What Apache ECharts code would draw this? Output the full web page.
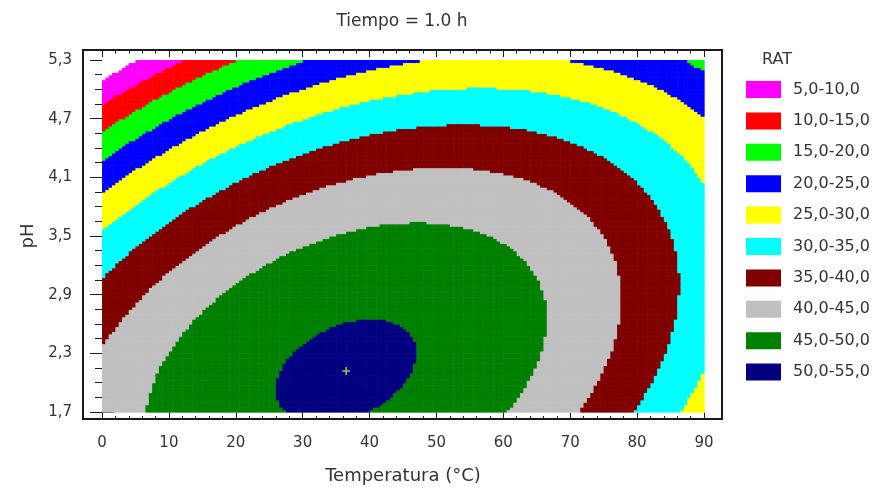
<!DOCTYPE html>
<html>
<head>
<meta charset="utf-8">
<title>Tiempo = 1.0 h</title>
<script src="https://cdn.jsdelivr.net/npm/echarts@6/dist/echarts.min.js"></script>
<style>
  html, body { margin: 0; padding: 0; background: #fff; }
  #chart { width: 893px; height: 491px; }
</style>
</head>
<body>
<div id="chart"></div>
<script>
// axis ranges and ticks
var tempTicks = [0, 10, 20, 30, 40, 50, 60, 70, 80, 90]
var phTicks = [1.7, 2.3, 2.9, 3.5, 4.1, 4.7, 5.3]
var tempInterval = 10
var phInterval = 0.6

// RAT surface: optimum (the + mark), value there,
// how far the ridge moves in °C per pH unit, and the two curvatures
var optimum = [36.5, 2.12]
var optimumRAT = 50.7
var ridgeSlope = 7.0
var phCurvature = 2.47
var tempCurvature = 0.00724

// contour bands
var bandLimits = [5, 10, 15, 20, 25, 30, 35, 40, 45, 50, 55]
var bandLabels = ['5,0-10,0', '10,0-15,0', '15,0-20,0', '20,0-25,0', '25,0-30,0',
  '30,0-35,0', '35,0-40,0', '40,0-45,0', '45,0-50,0', '50,0-55,0']
var bandColors = ['#ff00ff', '#ff0000', '#00ff00', '#0000ff', '#ffff00',
  '#00ffff', '#800000', '#c0c0c0', '#008000', '#000080']

var tempStep = 0.5
var phStep = 0.025
var font = 'DejaVu Sans'

function rat(t, ph) {
  var dp = ph - optimum[1]
  var u = t - optimum[0] - ridgeSlope * dp
  return optimumRAT - phCurvature * dp * dp - tempCurvature * u * u
}

var tMin = tempTicks[0], tMax = tempTicks[tempTicks.length - 1]
var pMin = phTicks[0], pMax = phTicks[phTicks.length - 1]
var nx = Math.round((tMax - tMin) / tempStep)
var ny = Math.round((pMax - pMin) / phStep)
var cells = []
for (var i = 0; i < nx; i++) {
  for (var j = 0; j < ny; j++) {
    var t = tMin + (i + 0.5) * tempStep
    var ph = pMin + (j + 0.5) * phStep
    cells.push([t, ph, rat(t, ph)])
  }
}

function renderCell(params, api) {
  var corner = api.coord([api.value(0) - tempStep / 2, api.value(1) + phStep / 2])
  var size = api.size([tempStep, phStep])
  return {
    type: 'rect',
    shape: { x: corner[0], y: corner[1], width: size[0] + 0.6, height: size[1] + 0.6 },
    style: { fill: api.visual('color') }
  }
}

var tickStyle = { color: '#1a1a1a', width: 1 }

function tempAxis(position, offset, showLabel) {
  return {
    type: 'value',
    position: position,
    offset: offset,
    min: tMin,
    max: tMax,
    interval: tempInterval,
    axisLine: { show: false },
    axisTick: { inside: true, length: 7, lineStyle: tickStyle },
    minorTick: { show: true, splitNumber: 5, length: 3.5, lineStyle: tickStyle },
    splitLine: { show: false },
    axisLabel: { show: showLabel, margin: 16, fontSize: 15, color: '#333', fontFamily: font },
    name: showLabel ? 'Temperatura (°C)' : '',
    nameLocation: 'middle',
    nameGap: 48,
    nameTextStyle: { fontSize: 18, color: '#333', fontFamily: font }
  }
}

function phAxis(position, offset, showLabel) {
  return {
    type: 'value',
    position: position,
    offset: offset,
    min: pMin,
    max: pMax,
    interval: phInterval,
    axisLine: { show: false },
    axisTick: { inside: true, length: 12, lineStyle: tickStyle },
    minorTick: { show: true, splitNumber: 4, length: 7, lineStyle: tickStyle },
    splitLine: { show: false },
    axisLabel: {
      show: showLabel, margin: 11, fontSize: 15, color: '#333', fontFamily: font,
      formatter: function (v) { return v.toFixed(1).replace('.', ',') }
    },
    name: showLabel ? 'pH' : '',
    nameLocation: 'middle',
    nameGap: 46,
    nameRotate: 90,
    nameTextStyle: { fontSize: 18, color: '#333', fontFamily: font }
  }
}

var chart = echarts.init(document.getElementById('chart'))
chart.setOption({
  animation: false,
  backgroundColor: '#fff',
  textStyle: { fontFamily: font },
  grid: { left: 102, right: 189, top: 60, bottom: 79 },
  xAxis: [tempAxis('bottom', 7.5, true), tempAxis('top', 10, false)],
  yAxis: [phAxis('left', 19, true), phAxis('right', 18, false)],
  visualMap: {
    type: 'piecewise',
    dimension: 2,
    seriesIndex: 0,
    pieces: bandColors.map(function (c, k) {
      return { gte: bandLimits[k], lt: bandLimits[k + 1], label: bandLabels[k], color: c }
    }),
    outOfRange: { color: '#ffffff' },
    orient: 'vertical',
    inverse: true,
    align: 'left',
    left: 746,
    top: 81,
    padding: 0,
    itemWidth: 35,
    itemHeight: 17,
    itemGap: 14.4,
    textGap: 12,
    itemSymbol: 'rect',
    hoverLink: false,
    selectedMode: false,
    textStyle: { fontSize: 16, color: '#333', fontFamily: font }
  },
  graphic: [
    {
      type: 'rect', z: 100,
      shape: { x: 83, y: 50, width: 639, height: 369 },
      style: { fill: 'none', stroke: '#1a1a1a', lineWidth: 2 }
    },
    {
      type: 'text', x: 402, y: 13,
      style: { text: 'Tiempo = 1.0 h', font: '17px "DejaVu Sans"', fill: '#333', textAlign: 'center', align: 'center' }
    },
    {
      type: 'text', x: 762, y: 52,
      style: { text: 'RAT', font: '16px "DejaVu Sans"', fill: '#333' }
    }
  ],
  series: [
    {
      type: 'custom',
      renderItem: renderCell,
      clip: true,
      silent: true,
      data: cells
    },
    {
      // the + at the optimum
      type: 'scatter',
      silent: true,
      symbol: 'path://M2,0H3V2H5V3H3V5H2V3H0V2H2Z',
      symbolSize: 8,
      itemStyle: { color: '#c8e650' },
      data: [optimum]
    }
  ]
})
</script>
</body>
</html>
